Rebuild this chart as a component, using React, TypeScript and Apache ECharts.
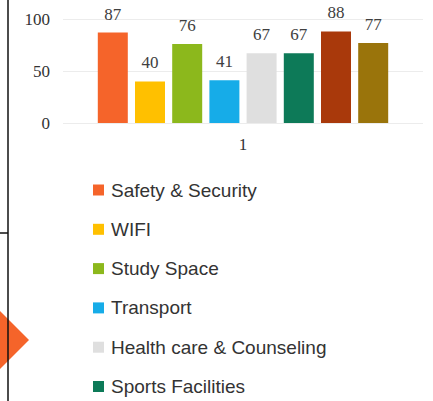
import React, { useEffect, useRef } from "react";
import * as echarts from "echarts";

const categories = ["1"];
const seriesNames = [
  "Safety & Security",
  "WIFI",
  "Study Space",
  "Transport",
  "Health care & Counseling",
  "Sports Facilities",
  "Series 7",
  "Series 8",
];
const seriesValues = [87, 40, 76, 41, 67, 67, 88, 77];
const seriesColors = [
  "#F5642A",
  "#FFC000",
  "#8CB81C",
  "#16ACE8",
  "#DFDFDF",
  "#0D7A58",
  "#A9390B",
  "#9A740B",
];
const legendNames = seriesNames.slice(0, 6);
const yTicks = { min: 0, max: 100, interval: 50 };

export default function App() {
  const ref = useRef<HTMLDivElement>(null);
  useEffect(() => {
    if (!ref.current) return;
    const chart = echarts.init(ref.current, undefined, { renderer: "svg" });
    chart.setOption({
      animation: false,
      backgroundColor: "#ffffff",
      grid: { left: 63, right: 10, top: 19, bottom: 278, containLabel: false },
      xAxis: {
        type: "category",
        data: categories,
        axisLine: { show: false },
        axisTick: { show: false },
        axisLabel: {
          fontFamily: "Liberation Serif",
          fontSize: 17,
          color: "#333333",
          margin: 13,
        },
      },
      yAxis: {
        type: "value",
        min: yTicks.min,
        max: yTicks.max,
        interval: yTicks.interval,
        axisLine: { show: false },
        axisTick: { show: false },
        axisLabel: {
          fontFamily: "Liberation Serif",
          fontSize: 17,
          color: "#333333",
          margin: 13,
        },
        splitLine: { lineStyle: { color: "#ececec", width: 1 } },
      },
      legend: {
        data: legendNames,
        orient: "vertical",
        left: 93,
        top: 180,
        itemWidth: 11,
        itemHeight: 11,
        itemGap: 19.3,
        icon: "rect",
        textStyle: {
          fontFamily: "Liberation Sans",
          fontSize: 19,
          lineHeight: 20,
          color: "#333333",
          padding: [0, 0, 0, 2],
        },
        padding: 0,
      },
      series: seriesNames.map((name, i) => ({
        type: "bar",
        name,
        data: [seriesValues[i]],
        barWidth: 30,
        barGap: "24%",
        itemStyle: { color: seriesColors[i] },
        label: {
          show: true,
          position: "top",
          distance: 10,
          fontFamily: "Liberation Serif",
          fontSize: 17,
          color: "#404040",
        },
      })),
      graphic: [
        {
          type: "polygon",
          shape: {
            points: [
              [0, 311],
              [29, 340],
              [0, 369],
            ],
          },
          style: { fill: "#F5642A" },
          z: 10,
        },
        {
          type: "line",
          shape: { x1: 8, y1: 0, x2: 8, y2: 401 },
          style: { stroke: "#111111", lineWidth: 1.5 },
          z: 11,
        },
        {
          type: "line",
          shape: { x1: 0, y1: 233, x2: 8, y2: 233 },
          style: { stroke: "#111111", lineWidth: 1.5 },
          z: 11,
        },
      ],
    });
    return () => chart.dispose();
  }, []);
  return (
    <div
      ref={ref}
      style={{ position: "fixed", left: 0, top: 0, width: 433, height: 401 }}
    />
  );
}
